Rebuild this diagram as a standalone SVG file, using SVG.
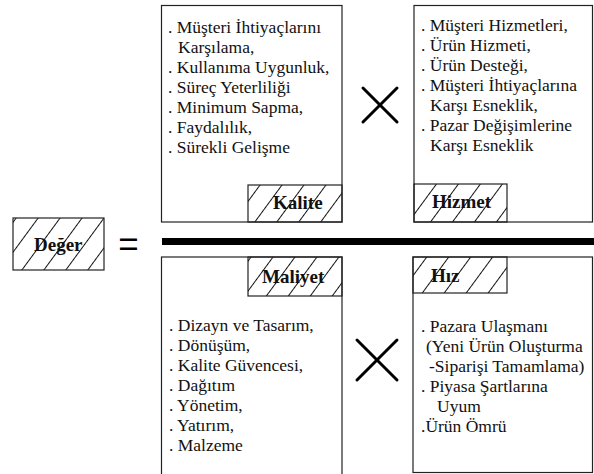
<svg xmlns="http://www.w3.org/2000/svg" width="594" height="474" viewBox="0 0 594 474">
<defs>
<pattern id="hatch" patternUnits="userSpaceOnUse" width="17.7" height="20" patternTransform="rotate(36.3)">
<line x1="0.5" y1="-5" x2="0.5" y2="25" stroke="#111" stroke-width="1"/>
</pattern>
</defs>
<style>
.box{fill:#fff;stroke:#222;stroke-width:1.2}
.lab{fill:url(#hatch);stroke:#222;stroke-width:1.2}
.t{font-size:17.5px;fill:#111}
.b{font-size:19px;font-weight:bold;fill:#111}
.x{stroke:#000;stroke-width:3;stroke-linecap:round}
</style>
<rect width="594" height="474" fill="#fff"/>
<g id="kalite" font-family="'Liberation Serif', 'Times New Roman', serif">
<rect class="box" x="161.5" y="5.5" width="180.5" height="216.5"/>
<rect class="lab" x="248" y="185" width="94" height="37"/>
<text class="b" x="273" y="209">Kalite</text>
<text class="t" x="168" y="33">. Müşteri İhtiyaçlarını</text>
<text class="t" x="178" y="53">Karşılama,</text>
<text class="t" x="168" y="73">. Kullanıma Uygunluk,</text>
<text class="t" x="168" y="93">. Süreç Yeterliliği</text>
<text class="t" x="168" y="113">. Minimum Sapma,</text>
<text class="t" x="168" y="133">. Faydalılık,</text>
<text class="t" x="168" y="153">. Sürekli Gelişme</text>
</g>
<g id="hizmet" font-family="'Liberation Serif', 'Times New Roman', serif">
<rect class="box" x="414" y="5.5" width="178.5" height="216.5"/>
<rect class="lab" x="414" y="184" width="93" height="38"/>
<text class="b" x="432" y="208">Hizmet</text>
<text class="t" x="421" y="31">. Müşteri Hizmetleri,</text>
<text class="t" x="421" y="51">. Ürün Hizmeti,</text>
<text class="t" x="421" y="71">. Ürün Desteği,</text>
<text class="t" x="421" y="91">. Müşteri İhtiyaçlarına</text>
<text class="t" x="430" y="111">Karşı Esneklik,</text>
<text class="t" x="421" y="131">. Pazar Değişimlerine</text>
<text class="t" x="430" y="151">Karşı Esneklik</text>
</g>
<g id="deger" font-family="'Liberation Serif', 'Times New Roman', serif">
<rect class="lab" x="13" y="218" width="91" height="52"/>
<text class="b" x="34" y="251">Değer</text>
</g>
<g id="maliyet" font-family="'Liberation Serif', 'Times New Roman', serif">
<rect class="box" x="161.5" y="257" width="180.5" height="230"/>
<rect class="lab" x="248" y="257" width="94" height="39"/>
<text class="b" x="262" y="283">Maliyet</text>
<text class="t" x="169" y="331">. Dizayn ve Tasarım,</text>
<text class="t" x="169" y="351">. Dönüşüm,</text>
<text class="t" x="169" y="371">. Kalite Güvencesi,</text>
<text class="t" x="169" y="391">. Dağıtım</text>
<text class="t" x="169" y="411">. Yönetim,</text>
<text class="t" x="169" y="431">. Yatırım,</text>
<text class="t" x="169" y="451">. Malzeme</text>
</g>
<g id="hiz" font-family="'Liberation Serif', 'Times New Roman', serif">
<rect class="box" x="413" y="257" width="179.5" height="215.5"/>
<rect class="lab" x="413" y="257" width="94" height="36"/>
<text class="b" x="431" y="282">Hız</text>
<text class="t" x="421" y="332">. Pazara Ulaşmanı</text>
<text class="t" x="426" y="352">(Yeni Ürün Oluşturma</text>
<text class="t" x="429" y="372">-Siparişi Tamamlama)</text>
<text class="t" x="421" y="392">. Piyasa Şartlarına</text>
<text class="t" x="437" y="412">Uyum</text>
<text class="t" x="421" y="432">.Ürün Ömrü</text>
</g>
<g id="connectors">
<rect x="162" y="238" width="432" height="7" fill="#000"/>
<text x="128.5" y="256" text-anchor="middle" font-family="'Liberation Sans', Arial, sans-serif" font-size="35" fill="#000">=</text>
<line class="x" x1="363" y1="88" x2="397" y2="122"/>
<line class="x" x1="397" y1="88" x2="363" y2="122"/>
<line class="x" x1="357" y1="340" x2="397" y2="380"/>
<line class="x" x1="397" y1="340" x2="357" y2="380"/>
</g>
</svg>
